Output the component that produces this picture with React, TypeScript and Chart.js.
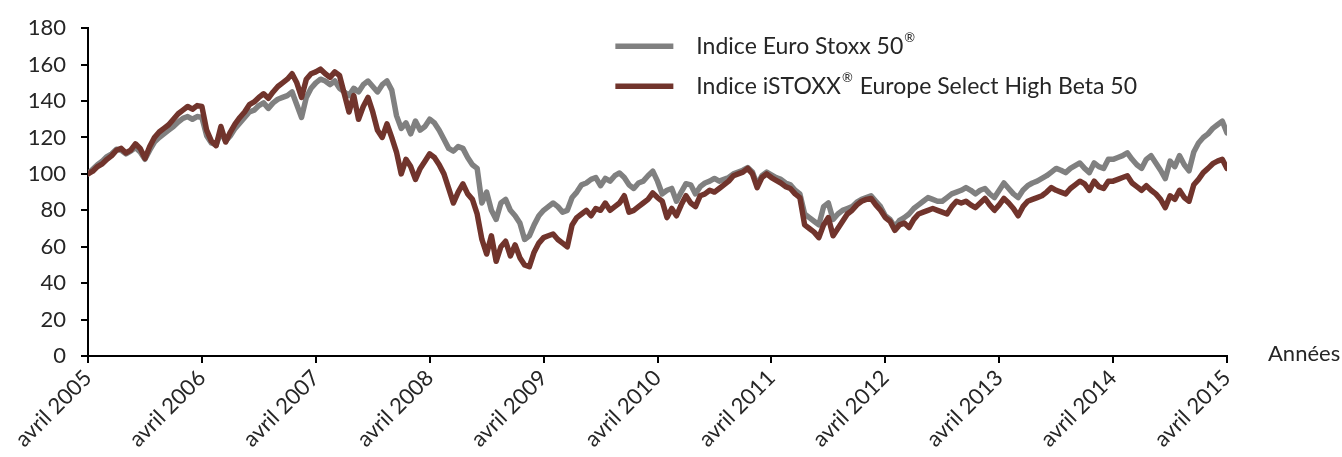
import { useEffect, useRef } from "react";
import { Chart, registerables } from "chart.js";

Chart.register(...registerables);

// X axis: months since April 2005, one value every half month
const stepMonths = 0.5;
const xTickLabels = [
  "avril 2005", "avril 2006", "avril 2007", "avril 2008", "avril 2009", "avril 2010",
  "avril 2011", "avril 2012", "avril 2013", "avril 2014", "avril 2015",
];
const yMin = 0;
const yMax = 180;
const yStep = 20;
const axisTitle = "Années";
const seriesNames = ["Indice Euro Stoxx 50®", "Indice iSTOXX® Europe Select High Beta 50"];

const euroStoxx50 = [
  100, 102.5, 105, 107, 109.5, 111, 113.5, 113, 111, 112.5, 114.5, 112, 108, 113, 117.5, 120, 122, 124, 126, 128.5, 130.5, 131.5, 130, 131.5,
  131, 121, 117, 116, 123, 118, 121, 125, 128, 131, 134, 135, 137.5, 139, 136, 139, 141, 142, 143, 145, 138, 131, 142, 147,
  150, 152, 151, 149, 151, 147, 145, 143, 147, 145, 149, 151, 148, 145, 149, 151, 146, 132, 125, 128, 122, 129, 124, 126,
  130, 128, 124, 119, 114, 112.5, 115, 114, 109, 105, 103, 84, 90, 80, 75, 84, 86, 80, 77, 73, 64, 66, 72, 77,
  80, 82, 84, 82, 79, 80, 87, 90, 94, 95, 97, 98, 93.5, 97.5, 96, 99, 100.5, 98, 94, 92, 95, 96, 99, 101.5,
  96, 89, 91, 92, 85, 90, 94.6, 94, 89, 93, 95, 96, 97.5, 96, 97, 98, 100, 101, 102, 103.5, 101, 94, 99, 101,
  99.5, 98, 97, 95, 94, 91, 89, 78, 76, 74, 72, 82, 84, 75, 78, 80, 81, 82, 84.5, 86, 87, 88, 85, 82,
  77, 75, 71, 74.5, 76, 78, 81, 83, 85, 87, 86, 85, 85, 87, 89, 90, 91, 92.5, 91, 89, 91, 92, 89, 87,
  91, 95, 92, 89, 87, 91, 93.5, 95, 96, 97.5, 99, 101, 103, 102, 100.7, 103, 104.5, 106, 103, 100.7, 106, 104, 103, 108,
  108, 109, 110, 111.6, 108, 105, 103, 108, 110, 106, 102, 97.4, 107, 104, 110, 105, 101.7, 112, 117, 120, 122, 125, 127, 129, 122.5,
];

const highBeta50 = [
  100, 101.5, 104, 105.5, 108, 110, 113, 114, 111.5, 113, 116.5, 114, 108.5, 115, 120, 123, 125, 127, 130, 133, 135, 137, 135.5, 137.5,
  137, 124, 118, 115.5, 126, 117.5, 123, 127.5, 131, 134, 138, 139.5, 142, 144, 141.5, 145, 148, 150, 152, 155, 150, 142, 152, 155,
  156, 157.5, 155, 153, 156, 154, 144, 134, 143, 130, 137, 142, 134, 124, 120, 127.5, 120, 112, 100, 108, 104, 97, 103, 107,
  111, 109, 105, 100, 92, 84, 90, 94.5, 89, 86, 78, 64, 56, 66, 52, 60, 63, 55, 61, 54, 50, 49, 57, 62,
  65, 66, 67, 64, 62, 60, 72, 76, 78, 80, 77, 81, 80, 84, 80, 82, 84, 88, 79, 80, 82, 84, 86, 89.5,
  87, 85, 76, 81, 77, 83, 88, 84, 82, 88, 89, 91, 90, 92, 94, 96, 99, 100, 101, 103, 100, 92.5, 98, 100,
  98, 96.5, 95, 93, 92, 89, 87, 72, 70, 68, 65, 72, 76, 66, 70, 74, 78, 80, 83, 85, 86, 86.5, 83, 80,
  76, 74, 69, 72, 73, 70.5, 75, 78, 79, 80, 81, 80, 79, 78, 82, 85, 84, 85, 83, 81.5, 84, 86.5, 83, 80,
  83, 86.5, 84, 81, 77, 82, 85, 86, 87, 88, 90, 92.5, 91, 90, 89, 92, 94, 96, 94.5, 91, 96, 93, 92, 96,
  96, 97, 98, 99, 95, 93, 91, 93.5, 91, 89, 86, 81.5, 88, 86, 91, 87, 85, 94, 97, 100.7, 103, 105.6, 107, 108, 103,
];

const GREY = "#808080";
const BROWN = "#71342c";
const TEXT = "#262626";
const FONT = "Lato";

const toPoints = (vals: number[]) => vals.map((y, i) => ({ x: i * stepMonths, y }));

function drawRich(ctx: CanvasRenderingContext2D, text: string, x: number, y: number, size: number) {
  const parts = text.split("®");
  let cx = x;
  parts.forEach((p, i) => {
    ctx.font = `${size}px ${FONT}`;
    ctx.fillText(p, cx, y);
    cx += ctx.measureText(p).width;
    if (i < parts.length - 1) {
      ctx.font = `${Math.round(size * 0.55)}px ${FONT}`;
      ctx.fillText("®", cx + 1, y - size * 0.35);
      cx += ctx.measureText("®").width + 2;
    }
  });
}

const overlayPlugin = {
  id: "overlay",
  afterDraw(chart: any) {
    const ctx: CanvasRenderingContext2D = chart.ctx;
    const a = chart.chartArea;
    const w = a.right - a.left;
    ctx.save();
    const lx = a.left + w * 0.463;
    const rows = [
      { y: a.top + 18, color: GREY, label: seriesNames[0] },
      { y: a.top + 58, color: BROWN, label: seriesNames[1] },
    ];
    rows.forEach((r) => {
      ctx.strokeStyle = r.color;
      ctx.lineWidth = 5.5;
      ctx.lineCap = "butt";
      ctx.beginPath();
      ctx.moveTo(lx, r.y);
      ctx.lineTo(lx + 58, r.y);
      ctx.stroke();
      ctx.fillStyle = TEXT;
      ctx.textBaseline = "middle";
      ctx.textAlign = "left";
      drawRich(ctx, r.label, lx + 81, r.y, 23);
    });
    ctx.font = `22px ${FONT}`;
    ctx.fillStyle = TEXT;
    ctx.textBaseline = "middle";
    ctx.fillText(axisTitle, a.right + 41, a.bottom - 2);
    ctx.restore();
  },
};

export default function App() {
  const ref = useRef<HTMLCanvasElement>(null);
  useEffect(() => {
    document.body.style.margin = "0";
    const chart = new Chart(ref.current!, {
      type: "line",
      data: {
        datasets: [
          {
            label: seriesNames[0],
            data: toPoints(euroStoxx50),
            borderColor: GREY,
            borderWidth: 5.5,
            pointRadius: 0,
            tension: 0,
            borderJoinStyle: "round",
            borderCapStyle: "round",
            order: 2,
          },
          {
            label: seriesNames[1],
            data: toPoints(highBeta50),
            borderColor: BROWN,
            borderWidth: 5.5,
            pointRadius: 0,
            tension: 0,
            borderJoinStyle: "round",
            borderCapStyle: "round",
            order: 1,
          },
        ],
      },
      options: {
        responsive: false,
        animation: false,
        layout: { padding: { left: 0, right: 115, top: 27, bottom: 0 } },
        plugins: { legend: { display: false }, tooltip: { enabled: false } },
        scales: {
          x: {
            type: "linear",
            min: 0,
            max: (xTickLabels.length - 1) * 12,
            afterFit: (s: any) => {
              s.height = 101;
            },
            grid: { display: true, drawOnChartArea: false, drawTicks: true, tickLength: 7, color: "#000", lineWidth: 2 },
            border: { display: true, color: "#000", width: 2 },
            ticks: {
              stepSize: 12,
              autoSkip: false,
              maxRotation: 45,
              minRotation: 45,
              padding: 2,
              color: TEXT,
              font: { family: FONT, size: 22 },
              callback: (v: any) => xTickLabels[Math.round(Number(v) / 12)] ?? "",
            },
          },
          y: {
            min: yMin,
            max: yMax,
            afterFit: (s: any) => {
              s.width = 88;
            },
            grid: { display: true, drawOnChartArea: false, drawTicks: true, tickLength: 7, color: "#000", lineWidth: 2 },
            border: { display: true, color: "#000", width: 2 },
            ticks: {
              stepSize: yStep,
              padding: 15,
              color: TEXT,
              font: { family: FONT, size: 22 },
            },
          },
        },
      },
      plugins: [overlayPlugin],
    });
    return () => chart.destroy();
  }, []);
  return (
    <div style={{ width: 1342, height: 457, position: "relative", overflow: "hidden" }}>
      <canvas ref={ref} width={1342} height={457} style={{ display: "block" }} />
    </div>
  );
}
